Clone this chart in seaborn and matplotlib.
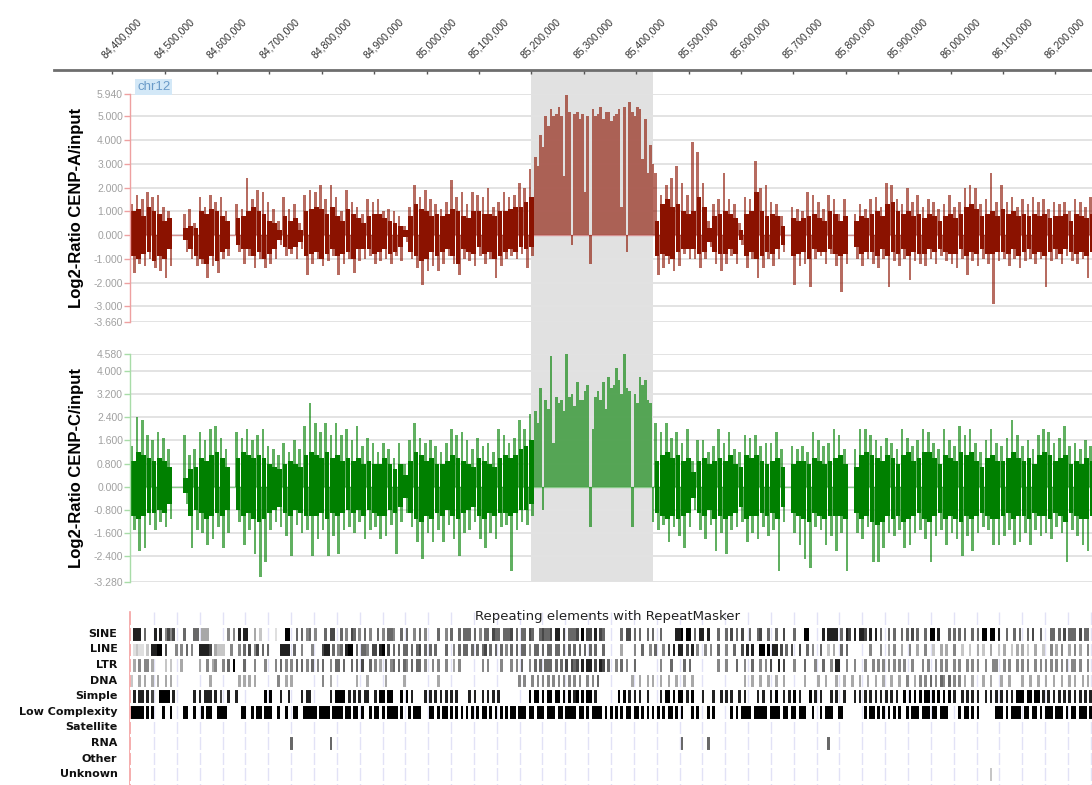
import numpy as np
import pandas as pd
import matplotlib
matplotlib.use("Agg")
import matplotlib.pyplot as plt
import seaborn as sns
from matplotlib.transforms import blended_transform_factory, ScaledTranslation
from matplotlib.patches import Rectangle

sns.set_theme(style="white")
plt.rcParams['font.family'] = ['Liberation Sans', 'DejaVu Sans']

nan = np.nan

# genomic window on chr12
view_start = 84_434_000
view_end = 86_270_000
ruler_start = 84_289_000
ruler_ticks = list(range(84_400_000, 86_200_001, 100_000))
highlight = (85_200_000, 85_432_000)

# probe bins for the two ChIP tracks (10 kb each)
bin_start = 84_435_000
bin_step = 10_000

# CENP-A: upward spike, downward spike, dense core top / bottom per bin
cenpa_up = [1.3, 1.7, 1.5, 1.8, 1.6, 1.7, 1.2, 1.0, nan, nan,
            0.9, 1.1, 0.5, 1.6, 1.2, 1.7, 1.4, 1.6, 1.0, nan,
            1.3, 1.1, 2.4, 1.5, 1.9, 1.8, 1.4, 1.1, 0.6, 1.6,
            1.1, 1.3, 0.5, 1.7, 1.9, 1.8, 2.1, 1.5, 2.1, 1.6,
            1.0, 1.9, 1.4, 1.2, 0.9, 1.5, 1.4, 1.5, 1.0, 1.1,
            1.0, 0.8, 0.4, 1.2, 2.1, 1.6, 1.9, 1.5, 1.3, 1.1,
            1.4, 2.3, 1.6, 1.8, 1.3, 1.8, 1.7, 1.6, 2.0, 1.2,
            1.4, 1.8, 1.6, 1.7, 2.2, 2.0, 2.8, 3.3, 4.2, 5.0,
            5.3, 5.1, 5.0, 5.9, -0.4, 5.2, 5.1, 5.0, 5.3, 5.1,
            4.9, 5.2, 5.0, 5.3, 5.4, 5.6, 5.0, 5.3, 4.9, 3.8,
            2.6, 1.7, 2.1, 2.4, 2.9, 2.2, 1.7, 3.9, 3.5, 2.2,
            0.6, 1.3, 1.5, 2.6, 1.5, 1.3, 0.5, 1.6, 1.5, 3.1,
            2.0, 2.1, 1.4, 1.3, 0.8, nan, 1.2, 1.1, 1.0, 1.8,
            1.7, 1.4, 1.1, 1.7, 1.5, 0.9, 1.5, nan, 0.9, 1.3,
            1.1, 1.5, 1.6, 1.2, 2.2, 2.1, 1.5, 1.3, 2.0, 1.4,
            1.7, 1.2, 1.5, 1.4, 1.1, 1.3, 1.7, 1.2, 1.4, 2.0,
            2.1, 2.0, 1.3, 1.5, 2.6, 1.4, 2.1, 1.4, 1.6, 1.2,
            1.5, 1.3, 1.6, 1.4, 1.5, 1.1, 1.4, 1.3, 1.4, 1.0,
            1.5, 1.4, 1.2, 1.6]
cenpa_down = [-1.6, -1.2, -1.3, -1.0, -1.4, -1.5, -1.8, -1.3, nan, nan,
              -0.7, -1.0, -1.3, -1.2, -1.8, -1.3, -1.6, -1.0, -0.9, nan,
              -0.7, -1.2, -0.9, -1.4, -1.0, -1.4, -1.2, -1.0, -0.4, -0.9,
              -0.8, -1.0, -0.6, -1.7, -1.2, -1.0, -1.3, -1.1, -0.9, -1.7,
              -1.2, -1.0, -1.6, -1.1, -1.0, -0.9, -1.2, -1.1, -1.0, -1.2,
              -0.9, -1.1, -0.3, -1.0, -1.4, -2.1, -1.5, -1.3, -1.5, -1.2,
              -0.9, -1.2, -1.7, -1.0, -1.1, -1.3, -0.9, -1.2, -1.0, -1.8,
              -1.3, -1.0, -0.9, -1.0, -0.8, -1.4, -0.9, 2.9, 3.7, 4.6,
              5.0, 5.4, 2.5, 5.2, 5.1, 4.9, 1.8, -1.2, 5.0, 5.4,
              5.2, 4.8, 5.1, 1.2, -0.7, 5.2, 5.4, 3.2, 2.6, 3.0,
              -1.7, -1.4, -1.2, -1.5, -1.3, -0.8, -1.0, -1.0, -1.4, -1.0,
              -0.5, -1.2, -1.5, -1.2, -0.9, -1.2, -0.4, -1.4, -1.0, -1.8,
              -1.4, -1.0, -1.3, -1.0, -0.7, nan, -2.1, -1.3, -1.2, -2.2,
              -1.0, -0.9, -1.2, -0.8, -1.3, -2.4, -1.2, nan, -1.0, -1.3,
              -1.0, -1.2, -1.4, -1.0, -2.2, -1.1, -1.3, -1.0, -1.9, -1.1,
              -1.2, -1.3, -1.0, -1.2, -0.9, -1.1, -1.2, -1.4, -1.0, -1.7,
              -1.1, -1.3, -1.0, -1.2, -2.9, -1.1, -1.0, -1.3, -1.0, -1.4,
              -1.1, -1.0, -1.2, -1.0, -2.2, -1.1, -1.0, -1.2, -0.9, -1.1,
              -1.2, -1.0, -1.8, -1.1]
cenpa_core_hi = [1.0, 1.1, 0.8, 1.2, 1.0, 0.9, 0.6, 0.7, nan, nan,
                 0.3, 0.4, 0.3, 1.0, 0.9, 1.1, 1.0, 0.8, 0.6, nan,
                 0.7, 0.8, 1.0, 1.2, 1.0, 0.9, 0.6, 0.5, 0.2, 0.8,
                 0.6, 0.7, 0.2, 1.0, 1.1, 1.2, 1.1, 0.9, 1.2, 0.8,
                 0.6, 1.1, 0.9, 0.7, 0.5, 0.8, 0.9, 0.9, 0.7, 0.6,
                 0.5, 0.4, 0.2, 0.8, 1.3, 1.1, 1.0, 0.8, 0.9, 0.8,
                 0.9, 1.1, 1.0, 0.8, 0.7, 1.0, 1.0, 0.9, 0.9, 0.8,
                 1.0, 1.0, 1.1, 1.2, 1.2, 1.4, 1.6, nan, nan, nan,
                 nan, nan, nan, nan, nan, nan, nan, nan, nan, nan,
                 nan, nan, nan, nan, nan, nan, nan, nan, nan, nan,
                 0.6, 1.3, 1.5, 1.2, 1.3, 1.0, 0.9, 1.0, 1.6, 1.2,
                 0.3, 0.8, 0.9, 1.0, 0.9, 0.7, 0.2, 0.9, 1.0, 1.8,
                 1.0, 0.8, 0.9, 0.8, 0.4, nan, 0.7, 0.6, 0.7, 0.8,
                 0.9, 0.7, 0.6, 1.0, 0.9, 0.6, 0.8, nan, 0.6, 0.8,
                 0.7, 0.9, 1.0, 0.8, 1.3, 1.4, 1.0, 0.9, 1.0, 0.8,
                 0.9, 0.7, 0.9, 0.8, 0.6, 0.8, 0.9, 0.7, 0.9, 1.2,
                 1.3, 1.1, 0.8, 0.9, 1.0, 0.8, 1.1, 0.9, 1.0, 0.8,
                 0.9, 0.8, 0.9, 0.8, 0.9, 0.7, 0.8, 0.8, 0.9, 0.6,
                 0.9, 0.8, 0.7, 0.9]
cenpa_core_lo = [-0.9, -1.0, -0.8, -0.7, -1.1, -0.9, -1.0, -0.6, nan, nan,
                 -0.2, -0.6, -0.9, -1.0, -1.2, -0.9, -1.1, -0.7, -0.6, nan,
                 -0.4, -0.6, -0.6, -0.9, -0.7, -1.0, -0.8, -0.6, -0.2, -0.5,
                 -0.6, -0.5, -0.3, -0.9, -0.8, -0.7, -1.0, -0.8, -0.6, -0.9,
                 -0.8, -0.7, -1.0, -0.6, -0.6, -0.6, -0.8, -0.7, -0.6, -0.8,
                 -0.7, -0.5, -0.1, -0.7, -0.9, -1.1, -1.0, -0.7, -0.9, -0.7,
                 -0.6, -0.9, -1.2, -0.6, -0.7, -0.8, -0.5, -0.8, -0.7, -1.0,
                 -0.9, -0.7, -0.6, -0.7, -0.5, -0.6, -0.5, nan, nan, nan,
                 nan, nan, nan, nan, nan, nan, nan, nan, nan, nan,
                 nan, nan, nan, nan, nan, nan, nan, nan, nan, nan,
                 -0.9, -0.8, -0.9, -1.0, -0.7, -0.6, -0.6, -0.6, -0.8, -0.7,
                 -0.3, -0.7, -0.8, -0.8, -0.6, -0.8, -0.2, -0.9, -0.7, -1.0,
                 -0.9, -0.7, -0.8, -0.6, -0.4, nan, -0.9, -0.8, -0.7, -1.0,
                 -0.6, -0.7, -0.7, -0.6, -0.8, -0.9, -0.8, nan, -0.5, -0.8,
                 -0.7, -0.7, -0.9, -0.6, -0.9, -0.7, -0.8, -0.6, -0.9, -0.7,
                 -0.8, -0.8, -0.6, -0.7, -0.6, -0.7, -0.8, -0.8, -0.6, -0.9,
                 -0.7, -0.8, -0.6, -0.8, -0.8, -0.7, -0.7, -0.8, -0.6, -0.9,
                 -0.7, -0.6, -0.8, -0.7, -0.9, -0.7, -0.6, -0.8, -0.6, -0.7,
                 -0.8, -0.7, -0.9, -0.7]

# CENP-C
cenpc_up = [1.4, 2.4, 2.3, 1.8, 1.6, 1.9, 1.7, 1.3, nan, nan,
            1.8, 1.1, 1.3, 1.9, 1.6, 2.0, 2.1, 1.7, 1.3, nan,
            1.9, 1.7, 2.0, 1.6, 1.8, 2.0, 1.4, 1.3, 1.1, 1.5,
            1.2, 1.6, 1.3, 2.1, 2.9, 2.2, 1.9, 2.2, 1.8, 2.2,
            1.8, 2.0, 1.6, 2.1, 1.4, 1.7, 1.5, 1.2, 1.5, 1.3,
            1.0, 1.5, 0.8, 1.6, 2.2, 1.7, 1.5, 1.6, 1.4, 1.2,
            1.5, 2.0, 1.8, 1.9, 1.6, 1.3, 1.7, 1.4, 1.5, 1.2,
            2.0, 1.8, 1.5, 1.7, 2.3, 2.0, 2.5, 2.6, 3.4, 3.0,
            4.5, 3.1, 3.0, 4.6, 3.2, 3.6, 3.0, 3.5, 2.0, 3.3,
            3.6, 3.8, 3.5, 3.7, 4.6, 3.3, 3.2, 3.8, 3.7, 2.9,
            2.2, 1.9, 2.2, 1.7, 1.9, 1.5, 2.0, 0.9, 1.6, 1.6,
            1.2, 1.4, 2.0, 1.5, 1.9, 1.3, 1.2, 1.8, 1.7, 1.8,
            1.4, 1.5, 1.5, 1.9, 1.3, nan, 1.4, 1.3, 1.4, 1.2,
            1.9, 1.6, 1.4, 1.5, 2.0, 1.8, 1.3, nan, 1.3, 2.0,
            2.0, 1.8, 1.6, 1.4, 1.7, 1.5, 1.3, 2.0, 1.7, 1.4,
            1.6, 2.0, 1.9, 1.5, 1.3, 2.0, 1.6, 1.4, 2.1, 1.8,
            2.0, 1.5, 1.2, 1.6, 2.0, 1.5, 1.4, 1.7, 2.3, 1.8,
            1.4, 1.6, 1.3, 1.8, 2.0, 1.9, 1.5, 1.7, 2.1, 1.4,
            1.5, 1.3, 1.6, 1.4]
cenpc_down = [-1.5, -2.2, -2.1, -1.3, -1.5, -1.2, -1.4, -1.1, nan, nan,
              -0.6, -2.1, -1.5, -1.6, -2.0, -1.8, -1.4, -2.1, -1.6, nan,
              -1.2, -2.0, -1.5, -2.3, -3.1, -2.6, -1.5, -1.2, -1.4, -1.7,
              -2.4, -1.3, -1.6, -1.5, -2.4, -1.8, -1.5, -2.4, -1.7, -2.3,
              -1.5, -1.4, -1.6, -1.2, -1.8, -1.5, -1.4, -1.8, -1.7, -1.3,
              -2.3, -1.2, -0.9, -1.4, -1.9, -2.5, -1.6, -1.9, -1.5, -1.9,
              -1.3, -1.8, -2.4, -1.6, -1.5, -1.2, -1.8, -2.1, -1.6, -1.8,
              -1.4, -1.3, -2.9, -1.5, -1.2, -1.3, -1.0, 2.2, -0.8, 2.7,
              1.5, 2.9, 2.6, 3.1, 2.8, 3.0, 3.3, -1.4, 3.1, 3.0,
              2.7, 3.4, 4.1, 3.2, 3.4, -1.4, 2.9, 3.5, 3.0, -1.2,
              -1.5, -1.3, -1.9, -1.4, -1.7, -2.1, -1.4, -0.8, -1.5, -1.8,
              -1.3, -2.2, -1.6, -2.3, -1.5, -1.4, -1.2, -1.9, -1.6, -1.8,
              -1.4, -1.7, -1.5, -2.9, -1.2, nan, -1.6, -2.0, -2.5, -2.8,
              -1.4, -1.5, -2.0, -1.7, -2.2, -1.6, -2.9, nan, -1.6, -1.8,
              -1.4, -2.6, -2.6, -2.1, -1.6, -1.7, -1.5, -2.1, -2.0, -1.6,
              -1.5, -1.8, -2.6, -1.7, -1.5, -2.0, -1.6, -1.8, -2.4, -1.7,
              -2.2, -1.6, -1.4, -1.5, -2.0, -2.0, -1.7, -1.5, -2.0, -1.9,
              -1.6, -2.0, -1.5, -1.7, -1.6, -1.8, -1.4, -1.6, -2.6, -1.5,
              -1.7, -2.0, -2.2, -2.0]
cenpc_core_hi = [0.9, 1.2, 1.1, 1.0, 0.9, 1.0, 0.9, 0.7, nan, nan,
                 0.3, 0.6, 0.7, 1.0, 0.9, 1.1, 1.2, 1.0, 0.7, nan,
                 1.0, 1.2, 1.1, 1.0, 1.1, 1.0, 0.8, 0.7, 0.6, 0.8,
                 0.9, 0.8, 0.7, 1.1, 1.2, 1.1, 1.0, 1.2, 1.0, 1.1,
                 0.9, 1.0, 0.9, 1.0, 0.8, 0.9, 0.8, 0.8, 1.0, 0.8,
                 0.6, 0.8, 0.4, 0.9, 1.2, 1.1, 0.9, 1.0, 0.8, 0.8,
                 0.9, 1.1, 1.0, 0.9, 0.8, 0.7, 1.0, 0.9, 0.8, 0.7,
                 1.0, 1.1, 1.0, 1.1, 1.3, 1.4, 1.6, nan, nan, nan,
                 nan, nan, nan, nan, nan, nan, nan, nan, nan, nan,
                 nan, nan, nan, nan, nan, nan, nan, nan, nan, nan,
                 0.9, 1.1, 1.2, 1.0, 1.1, 0.9, 1.0, 0.5, 0.9, 1.0,
                 0.8, 0.9, 1.0, 0.9, 1.1, 0.8, 0.7, 1.1, 1.0, 1.1,
                 0.9, 0.8, 0.9, 1.0, 0.7, nan, 0.8, 0.9, 0.9, 0.8,
                 1.0, 0.9, 0.8, 0.9, 1.0, 1.1, 0.8, nan, 0.7, 1.1,
                 1.2, 1.1, 1.0, 0.9, 1.1, 1.0, 0.8, 1.1, 1.2, 0.9,
                 1.0, 1.2, 1.2, 1.0, 0.8, 1.1, 1.0, 0.9, 1.2, 1.1,
                 1.2, 0.9, 0.7, 1.0, 1.1, 0.9, 0.9, 1.0, 1.2, 1.0,
                 0.9, 1.0, 0.8, 1.1, 1.2, 1.1, 0.9, 1.0, 1.1, 0.8,
                 0.9, 0.8, 1.0, 0.9]
cenpc_core_lo = [-1.0, -1.1, -1.0, -0.9, -0.9, -0.8, -0.9, -0.6, nan, nan,
                 -0.2, -1.0, -0.8, -0.9, -1.1, -1.0, -0.9, -1.0, -0.8, nan,
                 -0.8, -1.0, -0.9, -1.1, -1.2, -1.1, -0.9, -0.8, -0.7, -0.9,
                 -1.0, -0.8, -0.9, -1.0, -1.0, -1.0, -0.9, -1.1, -0.9, -1.0,
                 -0.9, -0.8, -0.9, -0.8, -1.0, -0.8, -0.9, -1.0, -1.0, -0.8,
                 -0.9, -0.7, -0.4, -0.9, -1.1, -1.2, -1.0, -1.1, -0.9, -1.0,
                 -0.8, -1.0, -1.1, -0.9, -0.8, -0.7, -1.0, -1.1, -0.9, -1.0,
                 -0.9, -0.9, -1.0, -0.9, -0.8, -0.8, -0.6, nan, nan, nan,
                 nan, nan, nan, nan, nan, nan, nan, nan, nan, nan,
                 nan, nan, nan, nan, nan, nan, nan, nan, nan, nan,
                 -0.9, -1.0, -1.1, -1.0, -1.1, -1.0, -0.9, -0.4, -0.9, -1.0,
                 -0.8, -1.1, -1.0, -1.1, -1.0, -0.9, -0.7, -1.1, -1.0, -1.0,
                 -0.9, -1.0, -0.9, -1.1, -0.7, nan, -0.9, -1.0, -1.1, -1.2,
                 -0.9, -1.0, -1.1, -1.0, -1.0, -1.0, -1.1, nan, -0.9, -1.1,
                 -1.0, -1.2, -1.3, -1.2, -1.0, -1.1, -1.0, -1.2, -1.1, -1.0,
                 -0.9, -1.1, -1.2, -1.0, -0.9, -1.1, -1.0, -1.1, -1.2, -1.0,
                 -1.1, -1.0, -0.9, -1.0, -1.1, -1.1, -1.0, -0.9, -1.1, -1.0,
                 -1.0, -1.1, -0.9, -1.0, -1.0, -1.1, -0.9, -1.0, -1.2, -0.9,
                 -1.0, -1.1, -1.1, -1.0]

cenpa_ticks = [5.94, 5.0, 4.0, 3.0, 2.0, 1.0, 0.0, -1.0, -2.0, -3.0, -3.66]
cenpc_ticks = [4.58, 4.0, 3.2, 2.4, 1.6, 0.8, 0.0, -0.8, -1.6, -2.4, -3.28]

# RepeatMasker classes, 5 kb cells, '.' = none, 1-9 = shade
rep_start = 84_435_000
rep_step = 5_000
repeat_rows = ['SINE', 'LINE', 'LTR', 'DNA', 'Simple', 'Low Complexity',
               'Satellite', 'RNA', 'Other', 'Unknown']
sine = [".888.6...8", ".8.5757...", "6...66.444", ".......5.5", ".8.88..4.3", ".....2...9", "9..6.6.56.", "5...6.77..",
        "6.5.76.5.6", ".5..6.5.66", "5..6.6..5.", "6.5....6..", "5.6..6.666", ".6.5.66.76", "6.6667.6.6", "6.76..6766",
        "7.88.7.666", "7.9.77.8.7", "6......6.7", "7.6.6..6.6", "..6.....88", "9.99.6.88.", "8...6..6.7", ".6.7..6..6",
        "7..6..6..7", "...6...99.", "....8.8888", ".6.87.8.88", "7.8.8.6..6", ".6..6.6.7.", "6..6.99.8.", "..6.6.6.6.",
        ".6.6.99.99", ".8..6..6.6", "..6.7..6..", ".66.6.7.66", "6.7.66.6.6"]
line = [".2322.3.88", "99.7...5.5", ".6.5..8888", "7.4333..5.", ".5.6.7.57.", "6.6....888", "8.6..5...5", "...788.6.5",
        "6.899.6.66", "5.77.89.7.", "6.6.66.6.6", "7.6.6.6...", "6..5.6.66.", "6.6.67.6.6", ".6.5.6.6.6", "6.5.66.6.6",
        "6.66.6.6.6", ".6.6.6.6..", "6......4..", "..5..6..5.", "6..5.7.8.8", "8.7.8.5..5", ".5..6..5..", "6..7.8.8..",
        "99.9.88.7.", "6.7..7..6.", "5..6..3.4.", ".6.6......", "..5...5..4", ".5..4..5..", "4..5..3..4", ".4..5..3..",
        "3..4.3..4.", ".3.4..3.4.", "4.3..4..3.", ".5.4.5..4.", "5.4..5.4.4"]
ltr = [".4.5.55.4.", "...3.3...4", "......4..5", ".45..5.6.9", "...6...5..", ".5...5.6.5", ".5.6.6.5.6", ".5.6..5.66",
       ".6..6.6.7.", ".6.5.4.6.5", "6.6.65.6.6", "6.5..5.5..", "5..4.5....", "....5.5...", ".5...5.5.6", "..5.6.6.66",
       "6.6.6.7.76", "7.8.88.7.8", "7.6..5.6.5", "..6.......", "..5...6...", ".6.6......", "....5..5..", ".6..5..6..",
       "5.5.7..8.7", "...5...6..", ".5..6..5.8", "8..5..5...", "5..5.5.5.5", ".5.5.5..5.", "..5.5..5.5", ".5..5.5..5",
       ".5.5..5..5", "5..5.5..5.", "5.5..5.5.5", ".5.5.5.5.5", "5.5..5.5.5"]
dna = ["3..4.4..4.", "4..4.4....", "..........", "4.........", ".4.4.4.4..", "......5..4", ".4........", "...5..4...",
       "......4...", "4......4..", "....4.....", ".......4..", "..........", "..........", "........5.", "5..5.5.5.5",
       ".5.5.5.5.5", ".5..5.5.6.", "..........", ".4..4..4.4", "..4..4..4.", ".4..4.....", "..........", "....4..4..",
       "4..4..4..4", ".......4..", "..4..4...4", "..4..4..4.", ".4..4..4..", "4..4..5..4", ".5.5.6.5.6", "5.6.5.5.4.",
       ".4...4..4.", "..4..4....", "4..4..4..4", "..4..4..4.", "4..4.4..4."]
simple = [".8.88.8.7.", ".9999.8...", "....8.8.88", "8.8.7..8..", "8.........", ".9.9...8..", "8....8.88.", "......8.99",
          "99.8.8.8.8", "8..8.99.99", "...9.9.8..", "..8.8.8.8.", "8.8.8....8", ".8..8.8.8.", "8.........", "..9.99.9.9",
          "9.99.9.9.8", "9.9.99.8..", "......9.9.", "8.8.8..8..", "..8.99.9.9", "9.8.9...8.", "..8..8.8.8", "..8.8....8",
          ".8..8.9..8", ".8.9.8...9", ".8.8...8.8", "..8...8.8.", "8.8.8.8.8.", "8.8..9.9.9", ".9.99.9.9.", "9.9.8..8.8",
          ".8.8..8.8.", "8.8.8.8.99", "9.99.99.8.", "8.8.8.8.8.", "8.8.8.8.8."]
low_complexity = ["99999.9.9.", "..9..9....", "99..9..9.9", "9..9999...", "..99..9.99", ".999..9..9", "..99..9999",
                  "9.9999.999", "9.99.99.9.", ".9.99.9.99", "99.9..9.99", "9...99.9.9", "9.9.9.9.9.", "9.9.99.9.9",
                  ".9.9.99.99", "9.99.999.9", "99.99.9999", ".99.9.9999", ".9.9.9.9.9", "9.99.9.9.9", ".9.9.99.9.",
                  "9...9.9...", "9.9......9", ".9.9999.99", "999.9999.9", "9.99.999..", "9..9.999..", "99........",
                  "9.99.9.9.9", ".9.9..9.99", "9.999.99.9", "99....9.99", ".9.9......", "999.9.9999", ".99.99.9.9",
                  "99.999.9.9", "9.999.9.99"]
rna_sites = [84_740_000, 84_814_000, 85_484_000, 85_537_000, 85_766_000]
unknown_sites = [86_076_000]

W, H = 1092, 785
fig = plt.figure(figsize=(W / 100, H / 100), dpi=100)


def box(x0, y0, x1, y1):
    # pixel box (top-left origin) -> figure fraction rect
    return [x0 / W, 1 - y1 / H, (x1 - x0) / W, (y1 - y0) / H]


def draw_track(ax, up, down, core_hi, core_lo, dark, axis_col, zero_col, ticks):
    up, down = np.asarray(up, float), np.asarray(down, float)
    n = min(len(core_hi), len(core_lo))
    core_hi, core_lo = np.asarray(core_hi[:n], float), np.asarray(core_lo[:n], float)
    for yt in ticks:
        ax.axhline(yt, color='#e3e3e3', lw=1.4, zorder=0)
    ax.axhline(0, color=zero_col, lw=1.0, zorder=0.5)
    xu = bin_start + bin_step * np.arange(len(up))
    m = np.isfinite(up)
    ax.bar(xu[m], up[m], width=bin_step * 0.5, align='edge', color=dark,
           alpha=0.62, lw=0, zorder=1)
    xd = bin_start + bin_step * (np.arange(len(down)) + 0.5)
    m = np.isfinite(down)
    ax.bar(xd[m], down[m], width=bin_step * 0.5, align='edge', color=dark,
           alpha=0.62, lw=0, zorder=1)
    xc = bin_start + bin_step * (np.arange(n) + 0.05)
    m = np.isfinite(core_hi) & np.isfinite(core_lo)
    ax.bar(xc[m], (core_hi - core_lo)[m], bottom=core_lo[m], width=bin_step * 0.9,
           align='edge', color=dark, lw=0, zorder=2)
    ax.set_xlim(view_start, view_end)
    ax.set_ylim(ticks[-1], ticks[0])
    ax.set_yticks(ticks)
    ax.set_yticklabels([f'{v:.3f}' for v in ticks])
    ax.set_xticks([])
    ax.tick_params(axis='y', left=True, length=4, width=1, color=axis_col,
                   labelcolor='#a0a0a0', labelsize=7.5, pad=1)
    for s in ['top', 'right', 'bottom']:
        ax.spines[s].set_visible(False)
    ax.spines['left'].set_color(axis_col)
    ax.spines['left'].set_linewidth(1)
    ax.set_facecolor('none')


ax_a = fig.add_axes(box(130, 94, 1092, 322))
ax_c = fig.add_axes(box(130, 354, 1092, 582))
draw_track(ax_a, cenpa_up, cenpa_down, cenpa_core_hi, cenpa_core_lo,
           '#8b1200', '#eea0a0', '#d49090', cenpa_ticks)
draw_track(ax_c, cenpc_up, cenpc_down, cenpc_core_hi, cenpc_core_lo,
           '#008000', '#a8dca8', '#88c888', cenpc_ticks)

# highlighted centromere region spanning both tracks
blend = blended_transform_factory(ax_a.transData, fig.transFigure)
fig.add_artist(Rectangle((highlight[0], 1 - 582 / H), highlight[1] - highlight[0],
                         (582 - 71) / H, transform=blend, facecolor='#e1e1e1',
                         edgecolor='none', zorder=-1))

# coordinate ruler
ax_r = fig.add_axes(box(54, 70, 1092, 71))
ax_r.set_facecolor('none')
ax_r.set_xlim(ruler_start, view_end)
ax_r.set_ylim(0, 1)
ax_r.set_yticks([])
for s in ['left', 'right', 'bottom']:
    ax_r.spines[s].set_visible(False)
ax_r.spines['top'].set_color('#6e6e6e')
ax_r.spines['top'].set_linewidth(2)
ax_r.xaxis.tick_top()
ax_r.set_xticks(ruler_ticks)
ax_r.set_xticklabels([f'{t:,}' for t in ruler_ticks])
ax_r.tick_params(axis='x', direction='in', length=3, width=1, color='#555555',
                 labelsize=7.5, labelcolor='#333333', pad=7)
shift = ScaledTranslation(-5 / 100, 0, fig.dpi_scale_trans)
for lbl in ax_r.get_xticklabels():
    lbl.set_rotation(45)
    lbl.set_ha('left')
    lbl.set_va('bottom')
    lbl.set_rotation_mode('anchor')
    lbl.set_transform(lbl.get_transform() + shift)

fig.text(137 / W, 1 - 87 / H, 'chr12', fontsize=9.5, color='#6b9bc8', ha='left', va='center',
         bbox=dict(boxstyle='square,pad=0.12', fc='#d3e8f7', ec='none'))
fig.text(76 / W, 1 - 208 / H, 'Log2-Ratio CENP-A/input', rotation=90, fontsize=12,
         fontweight='bold', ha='center', va='center', color='black')
fig.text(76 / W, 1 - 468 / H, 'Log2-Ratio CENP-C/input', rotation=90, fontsize=12,
         fontweight='bold', ha='center', va='center', color='black')

# RepeatMasker panel as a heatmap strip
n_rep = int((view_end - rep_start) / rep_step) + 4
rep_mat = np.full((len(repeat_rows), n_rep), np.nan)
dense = {'SINE': sine, 'LINE': line, 'LTR': ltr, 'DNA': dna,
         'Simple': simple, 'Low Complexity': low_complexity}
for name, chunks in dense.items():
    s = (''.join(chunks) + '.' * n_rep)[:n_rep]
    rep_mat[repeat_rows.index(name)] = [np.nan if c == '.' else int(c) for c in s]
for pos in rna_sites:
    rep_mat[repeat_rows.index('RNA'), int(round((pos - rep_start) / rep_step))] = 6
for pos in unknown_sites:
    rep_mat[repeat_rows.index('Unknown'), int(round((pos - rep_start) / rep_step))] = 3
rep_df = pd.DataFrame(rep_mat, index=repeat_rows)

ax_p = fig.add_axes(box(130, 612, 1092, 785))
sns.heatmap(rep_df, ax=ax_p, cmap='Greys', vmin=0, vmax=9, cbar=False,
            xticklabels=False, yticklabels=True)
ax_p.set_facecolor('white')
ax_p.collections[0].set_zorder(2)
ax_p.set_xlim((view_start - rep_start) / rep_step, (view_end - rep_start) / rep_step)
ax_p.set_ylim(10.2, -0.9)
grid_pos = np.arange(84_480_000, view_end, 43_600)
ax_p.vlines((grid_pos - rep_start) / rep_step, -0.9, 10.2, color='#e2e2f6', lw=1, zorder=1)
for k in range(11):
    ax_p.axhline(k, color='white', lw=2.2, zorder=3)
ax_p.set_xlabel('')
ax_p.set_ylabel('')
ax_p.tick_params(axis='y', left=False, length=0, pad=9)
for lbl in ax_p.get_yticklabels():
    lbl.set_rotation(0)
    lbl.set_fontsize(8)
    lbl.set_fontweight('bold')
    lbl.set_family('DejaVu Sans')
    lbl.set_color('#111111')
for s in ['top', 'right', 'bottom']:
    ax_p.spines[s].set_visible(False)
ax_p.spines['left'].set_visible(True)
ax_p.spines['left'].set_color('#f4a0a0')
ax_p.spines['left'].set_linewidth(1.2)
ax_p.text(0.496, 0.975, 'Repeating elements with RepeatMasker', transform=ax_p.transAxes,
          ha='center', va='center', fontsize=9.5, family='DejaVu Sans', color='#222222', zorder=5)

fig.savefig('out.png', dpi=100)
